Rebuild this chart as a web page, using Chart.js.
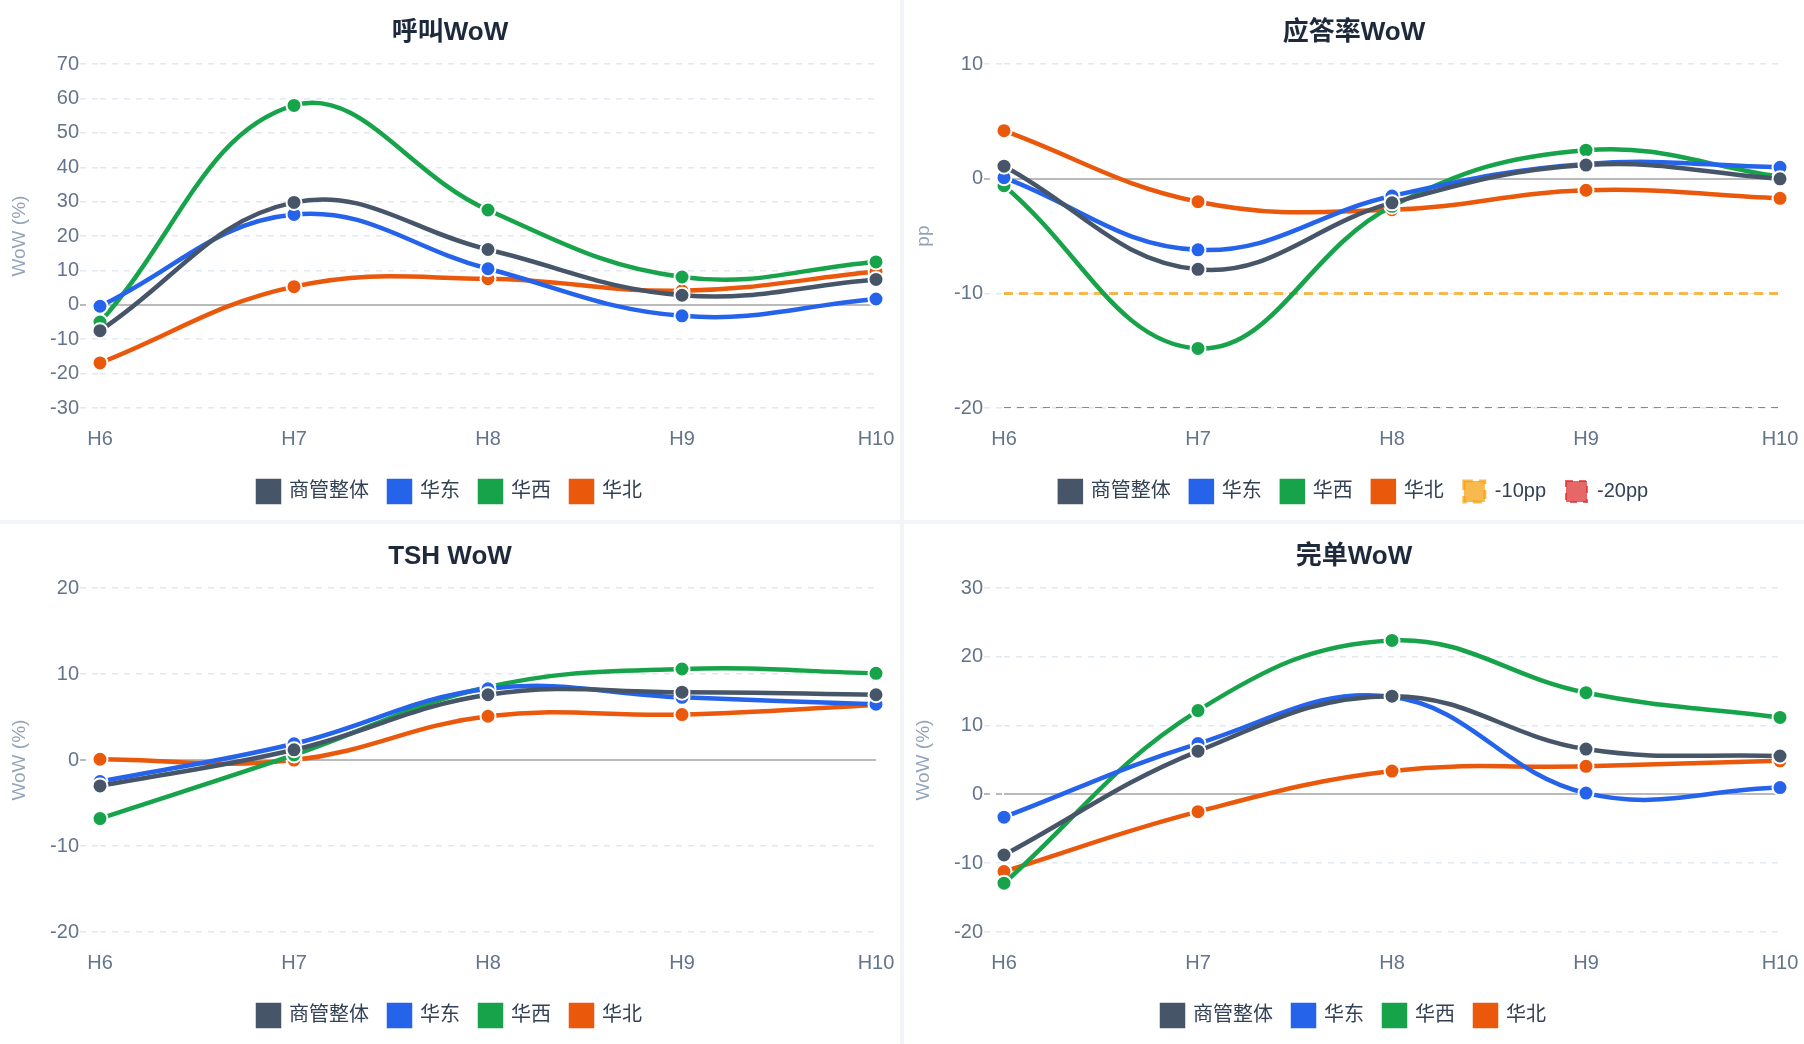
<!DOCTYPE html>
<html>
<head>
<meta charset="utf-8">
<script src="https://cdn.jsdelivr.net/npm/chart.js@4.4.1/dist/chart.umd.min.js"></script>
<style>
  html, body { margin: 0; padding: 0; background: #f1f4f8; }
  .grid { display: grid; grid-template-columns: 900px 900px; grid-template-rows: 520px 520px; gap: 4px; width: 1804px; height: 1044px; }
  .panel { background: #ffffff; width: 900px; height: 520px; }
  canvas { display: block; }
</style>
</head>
<body>
<div class="grid">
  <div class="panel"><canvas id="c1" width="900" height="520"></canvas></div>
  <div class="panel"><canvas id="c2" width="900" height="520"></canvas></div>
  <div class="panel"><canvas id="c3" width="900" height="520"></canvas></div>
  <div class="panel"><canvas id="c4" width="900" height="520"></canvas></div>
</div>
<script>
// ---- Data ----
const categories = ['H6', 'H7', 'H8', 'H9', 'H10'];
const seriesNames = ['商管整体', '华东', '华西', '华北'];

// 呼叫WoW (%)
const callOverall = [-7.5, 29.8, 16.1, 2.8, 7.4];
const callEast    = [-0.4, 26.3, 10.5, -3.2, 1.7];
const callWest    = [-5.0, 58.0, 27.6, 8.1, 12.5];
const callNorth   = [-16.9, 5.3, 7.6, 4.1, 9.7];

// 应答率WoW (pp)
const ansOverall = [1.1, -7.9, -2.1, 1.2, 0.0];
const ansEast    = [0.1, -6.2, -1.5, 1.3, 1.0];
const ansWest    = [-0.6, -14.8, -2.4, 2.5, 0.2];
const ansNorth   = [4.2, -2.0, -2.7, -1.0, -1.7];
const ansLine10  = [-10, -10, -10, -10, -10];
const ansLine20  = [-20, -20, -20, -20, -20];

// TSH WoW (%)
const tshOverall = [-3.0, 1.2, 7.6, 7.9, 7.6];
const tshEast    = [-2.5, 1.9, 8.3, 7.3, 6.5];
const tshWest    = [-6.8, 0.6, 8.5, 10.6, 10.1];
const tshNorth   = [0.1, 0.0, 5.1, 5.3, 6.4];

// 完单WoW (%)
const doneOverall = [-8.8, 6.3, 14.3, 6.6, 5.6];
const doneEast    = [-3.3, 7.4, 14.2, 0.2, 1.0];
const doneWest    = [-12.9, 12.2, 22.4, 14.8, 11.2];
const doneNorth   = [-11.2, -2.5, 3.4, 4.1, 4.9];

// ---- Styles ----
const seriesColors = ['#475569', '#2563eb', '#16a34a', '#ea580c'];
Chart.defaults.font.family = "'Liberation Sans', 'Noto Sans CJK SC', sans-serif";
Chart.defaults.animation = false;

function seriesDatasets(arrs) {
  return arrs.map((d, i) => ({
    label: seriesNames[i],
    data: d,
    borderColor: seriesColors[i],
    backgroundColor: seriesColors[i],
    borderWidth: 4.5,
    tension: 0.4,
    fill: false,
    pointRadius: 7.5,
    pointHoverRadius: 7.5,
    pointBackgroundColor: seriesColors[i],
    pointBorderColor: '#ffffff',
    pointBorderWidth: 2
  }));
}

function isZero(ctx) { return ctx.tick && ctx.tick.value === 0; }

function makeChart(id, title, yTitle, yMin, yMax, datasets) {
  return new Chart(document.getElementById(id), {
    type: 'line',
    data: { labels: categories, datasets: datasets },
    options: {
      responsive: false,
      animation: false,
      layout: { padding: { left: 0, right: 0, top: 0, bottom: 8 } },
      plugins: {
        title: {
          display: true, text: title, color: '#1e293b',
          font: { size: 26, weight: 'bold' },
          padding: { top: 17, bottom: 16 }
        },
        legend: {
          position: 'bottom',
          labels: {
            boxWidth: 21, boxHeight: 21, padding: 20,
            color: '#334155', font: { size: 20 }
          }
        },
        tooltip: { enabled: false }
      },
      scales: {
        x: {
          grid: { display: false, drawTicks: false },
          border: { display: false },
          ticks: { color: '#64748b', font: { size: 20 }, padding: 19 },
          afterFit: s => { s.height = 53; s.paddingRight = 24; s.paddingLeft = 0; }
        },
        y: {
          min: yMin, max: yMax,
          afterFit: s => { s.width = 100; },
          title: {
            display: true, text: yTitle, color: '#94a3b8',
            font: { size: 19 }, padding: { top: 8, bottom: 4 }
          },
          ticks: { stepSize: 10, color: '#64748b', font: { size: 20 }, padding: 1 },
          grid: {
            color: ctx => isZero(ctx) ? '#bababa' : '#e2e8f0',
            lineWidth: ctx => isZero(ctx) ? 2 : 1.5,
            tickLength: 20,
            tickBorderDash: [6, 6]
          },
          border: {
            display: false,
            dash: ctx => isZero(ctx) ? [] : [6, 6]
          }
        }
      }
    }
  });
}

makeChart('c1', '呼叫WoW', 'WoW (%)', -30, 70,
  seriesDatasets([callOverall, callEast, callWest, callNorth]));

const ansSets = seriesDatasets([ansOverall, ansEast, ansWest, ansNorth]);
ansSets.push({
  label: '-10pp', data: ansLine10,
  borderColor: 'rgba(245,158,11,0.72)', backgroundColor: 'rgba(245,158,11,0.72)',
  borderWidth: 3, borderDash: [9, 6], pointRadius: 0, pointHoverRadius: 0, tension: 0, fill: false
});
ansSets.push({
  label: '-20pp', data: ansLine20,
  borderColor: 'rgba(220,38,38,0.7)', backgroundColor: 'rgba(220,38,38,0.7)',
  borderWidth: 2, borderDash: [7, 6], pointRadius: 0, pointHoverRadius: 0, tension: 0, fill: false
});
makeChart('c2', '应答率WoW', 'pp', -20, 10, ansSets);

makeChart('c3', 'TSH WoW', 'WoW (%)', -20, 20,
  seriesDatasets([tshOverall, tshEast, tshWest, tshNorth]));

makeChart('c4', '完单WoW', 'WoW (%)', -20, 30,
  seriesDatasets([doneOverall, doneEast, doneWest, doneNorth]));
</script>
</body>
</html>
